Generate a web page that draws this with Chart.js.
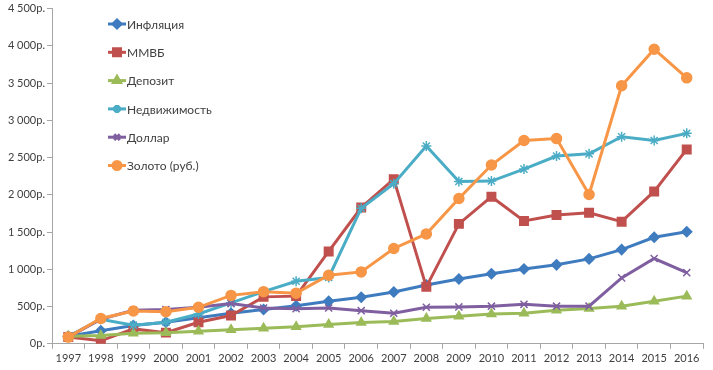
<!DOCTYPE html>
<html>
<head>
<meta charset="utf-8">
<script src="https://cdn.jsdelivr.net/npm/chart.js@4"></script>
<style>
  body { margin: 0; background: #fff; }
  #wrap { width: 713px; height: 370px; }
</style>
</head>
<body>
<div id="wrap"><canvas id="chart" width="713" height="370"></canvas></div>
<script>
// Years on the x axis
const years = ["1997", "1998", "1999", "2000", "2001", "2002", "2003", "2004", "2005", "2006",
  "2007", "2008", "2009", "2010", "2011", "2012", "2013", "2014", "2015", "2016"];

// Series values (rubles)
const inflation = [100, 175, 245, 290, 350, 410, 460, 510, 570, 625, 695, 790, 870, 940, 1005, 1060, 1140, 1265, 1430, 1505];
const mmvb = [90, 40, 200, 150, 290, 380, 630, 640, 1240, 1830, 2210, 765, 1610, 1975, 1650, 1730, 1760, 1640, 2045, 2610];
const deposit = [100, 110, 140, 150, 170, 190, 210, 230, 260, 285, 300, 340, 370, 400, 410, 450, 475, 505, 570, 640];
const realty = [100, 330, 250, 290, 400, 550, 700, 840, 890, 1820, 2150, 2655, 2180, 2185, 2345, 2520, 2550, 2780, 2730, 2825];
const dollar = [90, 330, 450, 460, 490, 540, 480, 470, 480, 445, 410, 490, 495, 505, 530, 505, 505, 885, 1145, 955];
const gold = [90, 340, 440, 430, 490, 650, 700, 680, 920, 965, 1280, 1475, 1950, 2400, 2730, 2755, 2005, 3465, 3955, 3570];

const names = ["Инфляция", "ММВБ", "Депозит", "Недвижимость", "Доллар", "Золото (руб.)"];
const colors = ["#3f7cbf", "#c0504d", "#9bbb59", "#4bacc6", "#7f5fa0", "#f79646"];
const markers = ["rectRot", "rect", "triangle", "star", "crossRot", "circle"];
const markerSizes = [5, 6, 5, 5, 5, 5];
const seriesData = [inflation, mmvb, deposit, realty, dollar, gold];

const font = "Lato, 'Open Sans', sans-serif";
const textColor = "#404040";

// format like "4 500р."
function rub(v) {
  return String(v).replace(/\B(?=(\d{3})+(?!\d))/g, " ") + "р.";
}

// legend drawn inside the plot, top left, with line + marker
const insideLegend = {
  id: "insideLegend",
  afterDraw(chart) {
    const ctx = chart.ctx;
    const x0 = 108;
    ctx.save();
    names.forEach((name, i) => {
      const y = 24 + i * 28.3;
      ctx.strokeStyle = colors[i];
      ctx.lineWidth = 3;
      ctx.beginPath();
      ctx.moveTo(x0, y);
      ctx.lineTo(x0 + 18, y);
      ctx.stroke();
      Chart.helpers.drawPoint(ctx, {
        pointStyle: markers[i],
        radius: markerSizes[i] - 1,
        rotation: 0,
        borderWidth: 1.5
      }, x0 + 9, y);
      ctx.fillStyle = colors[i];
      ctx.fill();
      ctx.fillStyle = textColor;
      ctx.font = "12px " + font;
      ctx.textBaseline = "middle";
      ctx.fillText(name, x0 + 19, y + 1);
    });
    ctx.restore();
  }
};

const datasets = names.map((name, i) => ({
  label: name,
  data: seriesData[i],
  borderColor: colors[i],
  backgroundColor: colors[i],
  borderWidth: 3,
  pointStyle: markers[i],
  pointRadius: markerSizes[i],
  pointBorderColor: colors[i],
  pointBackgroundColor: colors[i],
  pointBorderWidth: 1.5,
  tension: 0,
  order: names.length - i
}));

new Chart(document.getElementById("chart"), {
  type: "line",
  data: { labels: years, datasets },
  plugins: [insideLegend],
  options: {
    responsive: false,
    animation: false,
    layout: { padding: { top: 6, right: 10, left: 0, bottom: 2 } },
    plugins: {
      legend: { display: false },
      tooltip: { enabled: false }
    },
    scales: {
      x: {
        offset: true,
        grid: {
          offset: true,
          drawOnChartArea: false,
          drawTicks: true,
          tickLength: 5,
          color: "#a6a6a6"
        },
        border: { color: "#a6a6a6", width: 1 },
        ticks: {
          color: textColor,
          font: { family: font, size: 11 },
          maxRotation: 0,
          autoSkip: false,
          padding: 3
        }
      },
      y: {
        min: 0,
        max: 4500,
        afterFit(scale) { scale.width = 52; },
        grid: {
          drawOnChartArea: false,
          drawTicks: true,
          tickLength: 5,
          color: "#a6a6a6"
        },
        border: { color: "#a6a6a6", width: 1 },
        ticks: {
          stepSize: 500,
          color: textColor,
          font: { family: font, size: 11 },
          padding: 2,
          callback: (v) => rub(v)
        }
      }
    }
  }
});
</script>
</body>
</html>
